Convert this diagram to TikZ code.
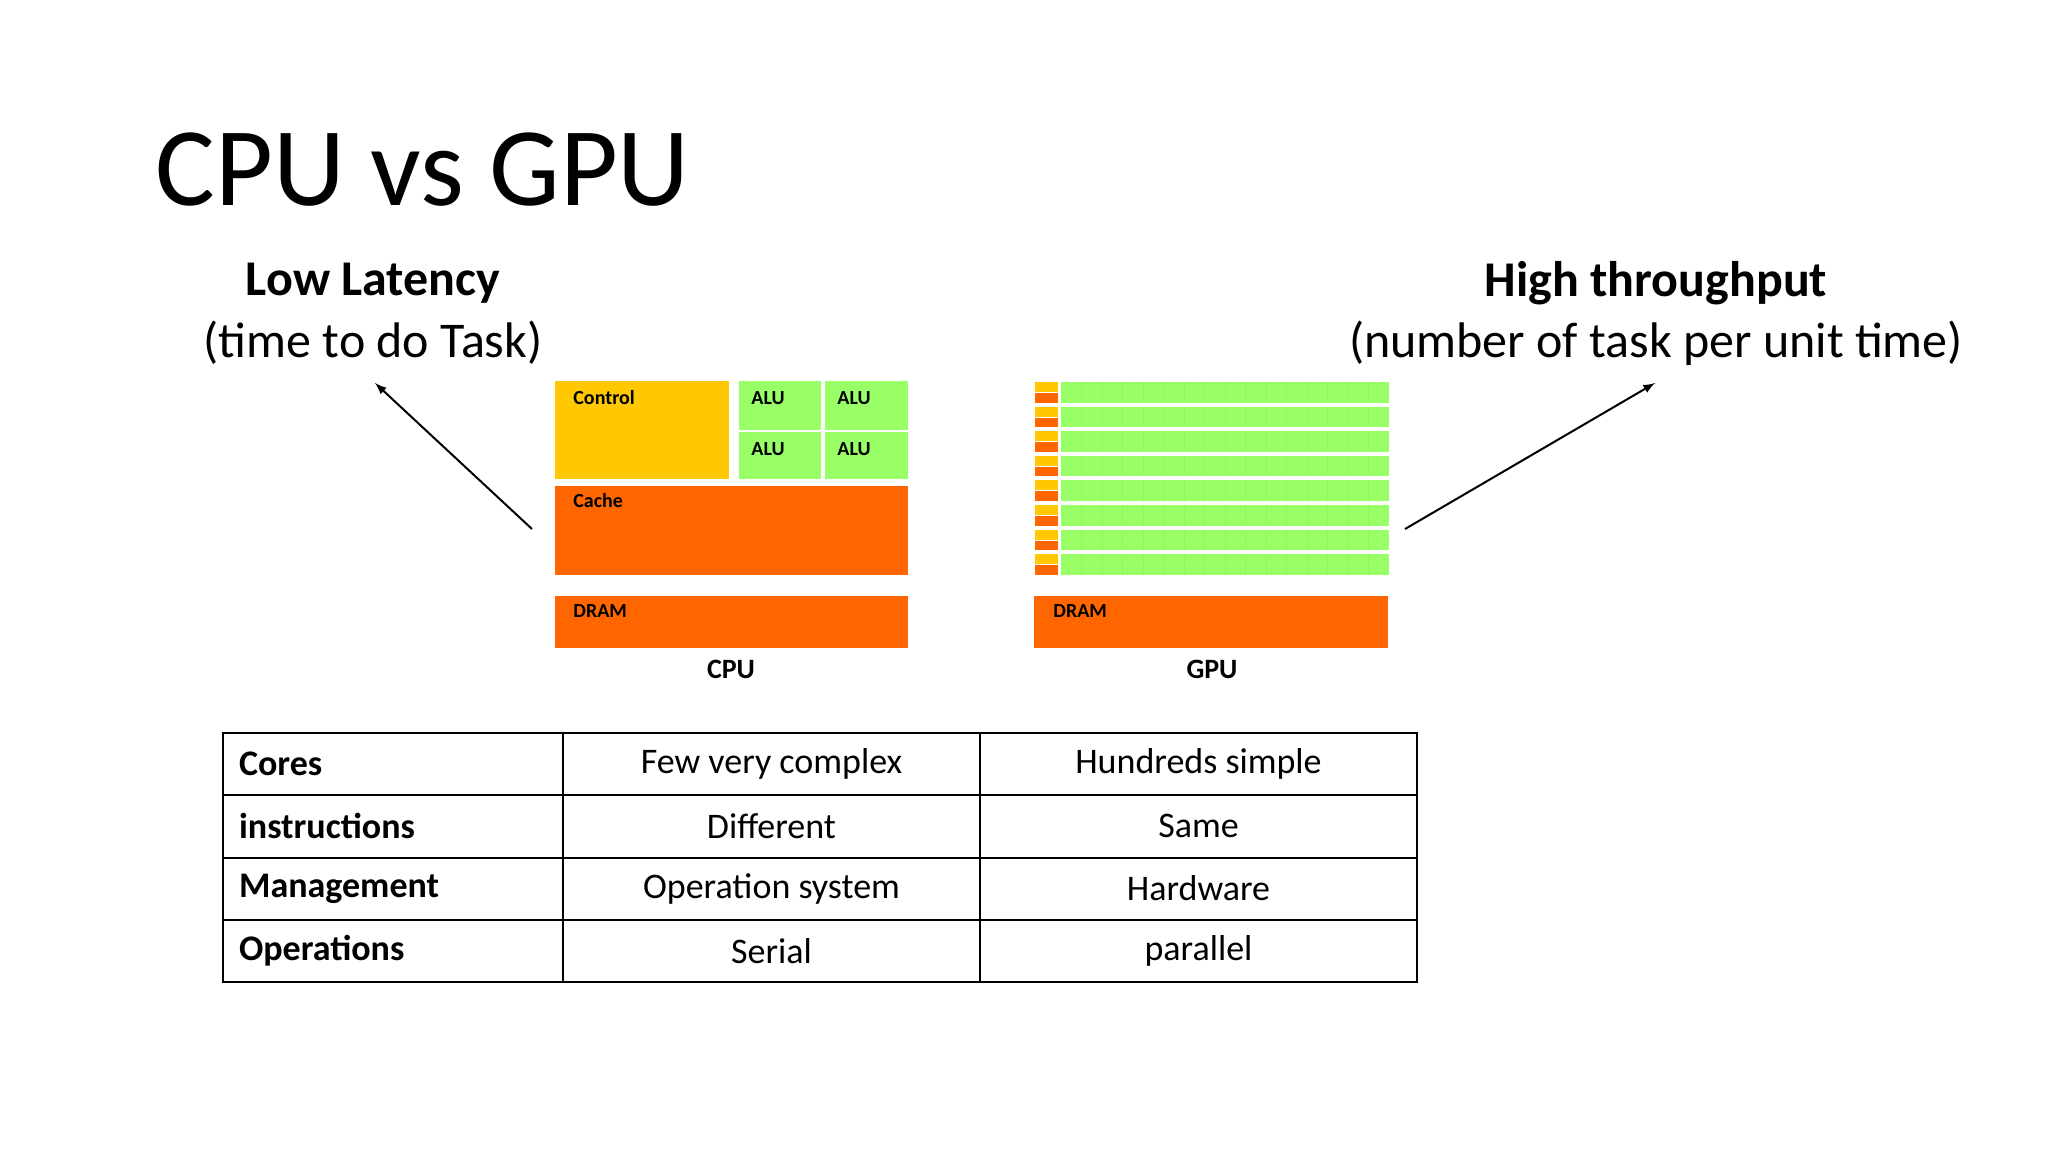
\documentclass[tikz,border=0pt]{standalone}
\usepackage{fontspec}
\setmainfont{Carlito}
\begin{document}
\definecolor{cy}{HTML}{FFC800}
\definecolor{co}{HTML}{FF6600}
\definecolor{cg}{HTML}{99FF66}
\begin{tikzpicture}[x=0.5pt,y=-0.5pt,
 blk/.style={draw=none,inner sep=0pt},
 lbl/.style={font=\fontsize{10}{12}\selectfont\bfseries,anchor=north west,inner sep=0pt},
 cell/.style={draw=black,line width=1pt,minimum height=31pt,inner sep=0pt,font=\fontsize{18}{21}\selectfont}]
\useasboundingbox (0,0) rectangle (2048,1152);
\node[anchor=west,inner sep=0pt,font=\fontsize{56}{64}\selectfont] (title) at (155,170) {CPU vs GPU};
\node[font=\fontsize{25}{30}\selectfont\bfseries] (ll) at (373,283) {Low Latency};
\node[font=\fontsize{25}{30}\selectfont] (ll2) at (373,343) {(time to do Task)};
\node[font=\fontsize{25}{30}\selectfont\bfseries] (ht) at (1656,283) {High throughput};
\node[font=\fontsize{25}{30}\selectfont] (ht2) at (1656,343) {(number of task per unit time)};
% CPU
\fill[cy] (555,381) rectangle (729,479);
\node[lbl] (ctl) at (573,390) {Control};
\foreach \x/\xx in {739/821,825/908}{\foreach \y/\yy in {381/430,432/479}{
 \fill[cg] (\x,\y) rectangle (\xx,\yy);
 \node[lbl] at (\x+12,\y+10) {ALU};}}
\fill[co] (555,486) rectangle (908,575);
\node[lbl] (cache) at (573,493) {Cache};
\fill[co] (555,596) rectangle (908,648);
\node[lbl] at (573,604) {DRAM};
\node[font=\fontsize{14}{16}\selectfont\bfseries] (cpu) at (731,669) {CPU};
\coordinate (cpuL) at (532,529);
% GPU
\foreach \i in {0,...,7}{
 \fill[cy] (1035,{382+24.6*\i}) rectangle (1058,{382+24.6*\i+10});
 \fill[co] (1035,{382+24.6*\i+11}) rectangle (1058,{382+24.6*\i+20.5});
 \fill[cg] (1061,{382+24.6*\i}) rectangle (1389,{382+24.6*\i+20.5});
 \foreach \k in {1,...,15}{\draw[cg!85!black,opacity=0.25,line width=0.5pt] ({1061+20.5*\k},{382+24.6*\i}) -- ++(0,20.5);}
}
\fill[co] (1034,596) rectangle (1388,648);
\node[lbl] at (1053,604) {DRAM};
\node[font=\fontsize{14}{16}\selectfont\bfseries] (gpu) at (1212,669) {GPU};
\coordinate (gpuR) at (1405,529);
\draw[-latex,line width=1pt] (cpuL) -- (375,383);
\draw[-latex,line width=1pt] (gpuR) -- (1655,383);
% table
\foreach \r/\a/\b/\c [count=\n from 0] in {Cores/Few very complex/Hundreds simple,instructions/Different/Same,Management/Operation system/Hardware,Operations/Serial/parallel}{
 \pgfmathsetmacro\yy{733+62.25*\n}
 \draw[line width=1pt] (223,\yy) rectangle (563,\yy+62.25);
 \draw[line width=1pt] (563,\yy) rectangle (980,\yy+62.25);
 \draw[line width=1pt] (980,\yy) rectangle (1417,\yy+62.25);
 \node[anchor=west,font=\fontsize{18}{21}\selectfont\bfseries] at (232,\yy+31) {\r};
 \node[font=\fontsize{18}{21}\selectfont] at (771.5,\yy+31) {\a};
 \node[font=\fontsize{18}{21}\selectfont] at (1198.5,\yy+31) {\b};
}
\end{tikzpicture}
\end{document}
